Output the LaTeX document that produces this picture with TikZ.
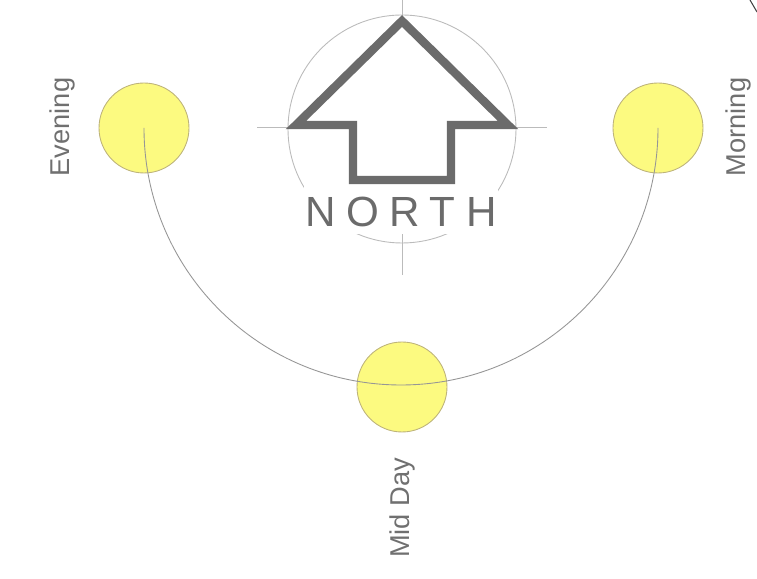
\documentclass[tikz,border=0pt]{standalone}
\usepackage{fontspec}
\setmainfont{Liberation Sans}
\newfontfamily\spacedfont[LetterSpace=25]{Liberation Sans}
\usetikzlibrary{positioning}
\definecolor{ink}{HTML}{6B6B6B}
\definecolor{guide}{HTML}{BBBBBB}
\definecolor{sunfill}{HTML}{FCFA80}
\definecolor{sunedge}{HTML}{BDB37A}
\definecolor{lbl}{HTML}{707070}
\tikzset{sun/.style={circle, fill=sunfill, draw=sunedge, line width=0.5pt, minimum size=1.8cm, inner sep=0pt},
  tag/.style={text=lbl, font=\fontsize{15.5}{18}\selectfont, rotate=90},
  guideline/.style={guide, line width=0.5pt}}

\begin{document}
\begin{tikzpicture}[line join=miter]
  \useasboundingbox (0,0) rectangle (15.14,11.58);
  % compass rose
  \draw[guideline] (8.04,9.0) circle[radius=2.28];
  \draw[guideline] (5.14,9.04)--(10.94,9.04);
  \draw[guideline] (8.04,11.58)--(8.04,6.08);
  \node[fill=white, text=ink, font=\spacedfont\fontsize{24}{28}\selectfont, text height=0.86cm, text depth=0.1cm, inner sep=1pt, anchor=base] (north) at (8.02,7.04) {NORTH};
  \filldraw[fill=white, draw=ink, line width=4.8pt] (8.04,11.16)--(10.16,9.08)--(9.02,9.08)--(9.02,7.98)--(7.06,7.98)--(7.06,9.08)--(5.92,9.08)--cycle;
  % sun path
  \node[sun] (evening) at (2.88,9.02) {};
  \node[sun] (morning) at (13.16,9.02) {};
  \node[sun] (midday) at (8.04,3.84) {};
  \draw[guide!80!black, line width=0.5pt] (evening.center) arc[start angle=180, end angle=360, radius=5.14];
  \node[tag] (evelbl) at (1.24,9.04) {Evening};
  \node[tag] (mornlbl) at (14.76,9.04) {Morning};
  \node[tag] (midlbl) at (8.04,1.42) {Mid Day};
  % edge of a neighbouring drawing
  \draw[black!75, line width=0.6pt] (15.0,11.58) .. controls (15.07,11.47) .. (15.14,11.34);
\end{tikzpicture}
\end{document}
